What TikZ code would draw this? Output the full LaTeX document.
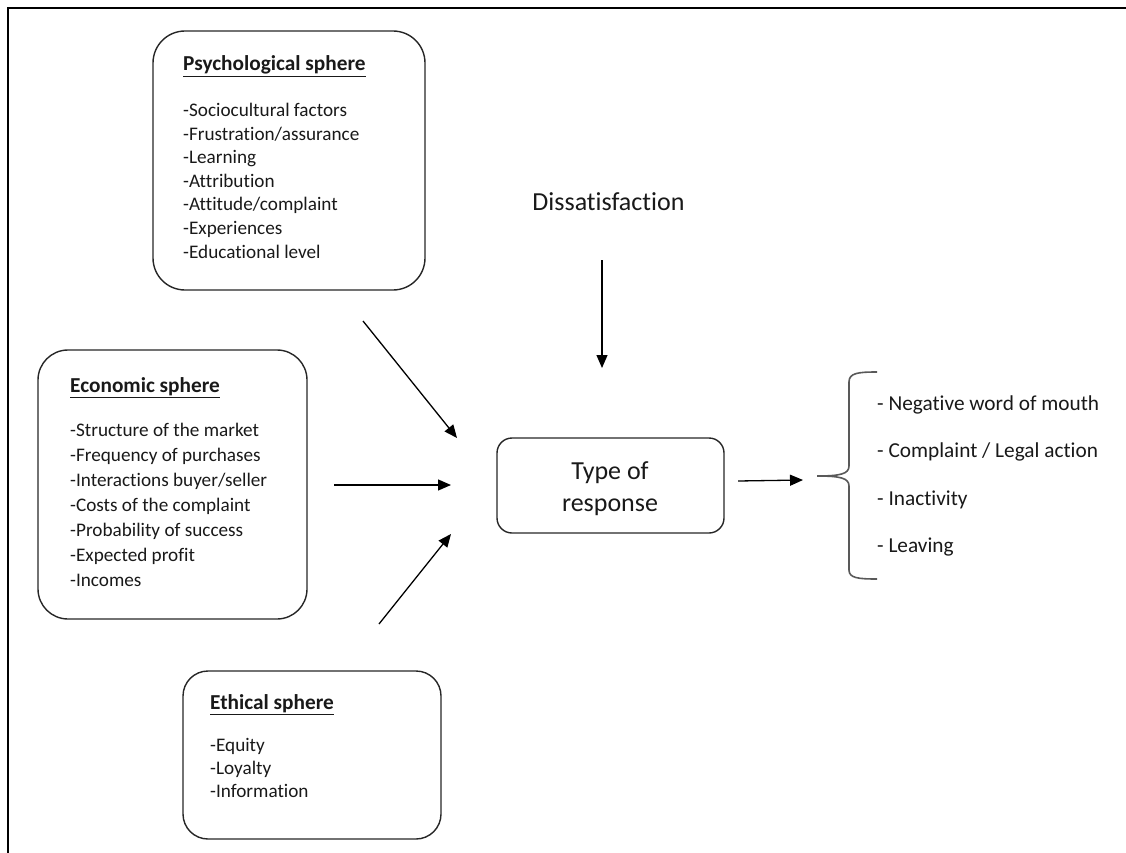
\documentclass[tikz,border=0pt]{standalone}
\usepackage{fontspec}
\setmainfont[Ligatures={NoCommon}]{Carlito}
\usetikzlibrary{arrows.meta}
\tikzset{
  sphere/.style={draw=black!85, line width=1.4pt, rounded corners=30pt, inner sep=0pt},
  resp/.style={draw=black!85, line width=1.4pt, rounded corners=15pt, inner sep=0pt},
  ttl/.style={anchor=base west, inner sep=0pt, font=\fontsize{21.3}{25}\selectfont\bfseries, text=black!90},
  item/.style={anchor=base west, inner sep=0pt, font=\fontsize{19.2}{23}\selectfont, text=black!90},
  big/.style={anchor=base, inner sep=0pt, font=\fontsize{26}{30}\selectfont, text=black!90},
  outitem/.style={anchor=base west, inner sep=0pt, font=\fontsize{21.3}{25}\selectfont, text=black!90},
  arr/.style={line width=1.3pt, -{Triangle[length=13pt,width=11pt]}},
  brace/.style={draw=black!65, line width=1.6pt}
}
\begin{document}
\begin{tikzpicture}[x=1pt,y=-1pt]
\useasboundingbox (0,0) rectangle (1126,853);
% frame
\draw[line width=2pt] (8,853) -- (8,8) -- (1126,8);

% Psychological sphere
\node[sphere, minimum width=272pt, minimum height=259pt, rounded corners=32pt] (psy) at (289,160.5) {};
\node[ttl] (psyt) at (183,71) {\underline{Psychological sphere}};
\foreach \t [count=\i from 0] in {-Sociocultural factors,-Frustration/assurance,-Learning,-Attribution,-Attitude/complaint,-Experiences,-Educational level}
  \node[item] (psy-\i) at (183,{116.7+23.55*\i}) {\t};

% Economic sphere
\node[sphere, minimum width=269pt, minimum height=269pt] (eco) at (172.5,484.5) {};
\node[ttl] (ecot) at (70,392) {\underline{Economic sphere}};
\foreach \t [count=\i from 0] in {-Structure of the market,-Frequency of purchases,-Interactions buyer/seller,-Costs of the complaint,-Probability of success,-Expected profit,-Incomes}
  \node[item] (eco-\i) at (70,{436+25*\i}) {\t};

% Ethical sphere
\node[sphere, minimum width=258pt, minimum height=168pt, rounded corners=25pt] (eth) at (312,755) {};
\node[ttl] (etht) at (210,709) {\underline{Ethical sphere}};
\foreach \t [count=\i from 0] in {-Equity,-Loyalty,-Information}
  \node[item] (eth-\i) at (210,{751+23*\i}) {\t};

% Type of response
\node[resp, minimum width=227pt, minimum height=95pt] (type) at (610.5,485.5) {};
\node[big] (type1) at (610,479.5) {Type of};
\node[big] (type2) at (610,511.5) {response};

% Dissatisfaction
\node[big] (dis) at (608.5,211) {Dissatisfaction};

% arrows
\coordinate (dA) at (602,260);
\coordinate (dB) at (602,368);
\draw[arr] (dA) -- (dB);
\coordinate (pA) at (363,321);
\coordinate (pB) at (457,438);
\draw[arr] (pA) -- (pB);
\coordinate (eA) at (334,485);
\coordinate (eB) at (451,485);
\draw[arr] (eA) -- (eB);
\coordinate (hA) at (379,624);
\coordinate (hB) at (451,534);
\draw[arr] (hA) -- (hB);
\coordinate (rA) at (738,481);
\coordinate (rB) at (803,480);
\draw[arr] (rA) -- (rB);

% brace
\coordinate (bTop) at (877,372);
\coordinate (bTip) at (817,476);
\coordinate (bBot) at (877,579);
\draw[brace] (bTop) .. controls (858,372) and (849,373) .. (849,382)
  -- (849,466) .. controls (849,474) and (840,476) .. (bTip)
  .. controls (840,476) and (849,478) .. (849,486)
  -- (849,570) .. controls (849,578) and (858,579) .. (bBot);

% responses
\node[outitem] (o1) at (877,410.4) {- Negative word of mouth};
\node[outitem] (o2) at (877,457) {- Complaint / Legal action};
\node[outitem] (o3) at (877,505.4) {- Inactivity};
\node[outitem] (o4) at (877,552) {- Leaving};
\end{tikzpicture}
\end{document}
